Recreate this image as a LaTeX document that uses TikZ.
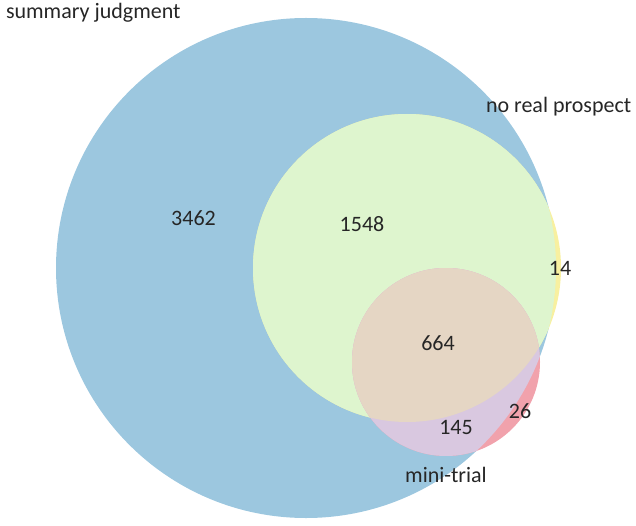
\documentclass[tikz,border=0pt]{standalone}
\usepackage{fontspec}
\setmainfont{Carlito}
\definecolor{sjblue}{RGB}{156,199,223}
\definecolor{nrgreen}{RGB}{222,245,206}
\definecolor{nryellow}{RGB}{248,240,160}
\definecolor{mtpink}{RGB}{241,162,172}
\definecolor{mtlav}{RGB}{217,200,224}
\definecolor{mttan}{RGB}{229,214,196}
\definecolor{txt}{RGB}{38,38,38}
\begin{document}
\begin{tikzpicture}[x=1pt,y=-1pt,
  lbl/.style={text=txt,font=\fontsize{22}{26}\selectfont,inner sep=0pt,outer sep=0pt},
  num/.style={lbl,anchor=base}]
\useasboundingbox (0,0) rectangle (636,526);
\coordinate (cB) at (306,268);
\coordinate (cG) at (407,268);
\coordinate (cP) at (446,362);
% summary judgment
\fill[sjblue] (cB) circle[radius=250pt];
% no real prospect
\fill[nryellow] (cG) circle[radius=154pt];
\begin{scope}
  \clip (cB) circle[radius=250pt];
  \fill[nrgreen] (cG) circle[radius=154pt];
\end{scope}
% mini-trial
\fill[mtpink] (cP) circle[radius=94pt];
\begin{scope}
  \clip (cB) circle[radius=250pt];
  \fill[mtlav] (cP) circle[radius=94pt];
\end{scope}
\begin{scope}
  \clip (cG) circle[radius=154pt];
  \fill[mttan] (cP) circle[radius=94pt];
\end{scope}
% labels
\node[lbl,anchor=base west] (sj) at (6,19) {summary judgment};
\node[lbl,anchor=base west] (nrp) at (486,113) {no real prospect};
\node[num] (mt) at (446,482) {mini-trial};
\node[num] (n3462) at (193.5,226) {3462};
\node[num] (n1548) at (362,232) {1548};
\node[num] (n14) at (560,276) {14};
\node[num] (n664) at (438,350) {664};
\node[num] (n26) at (520,418) {26};
\node[num] (n145) at (456,434) {145};
\end{tikzpicture}
\end{document}
